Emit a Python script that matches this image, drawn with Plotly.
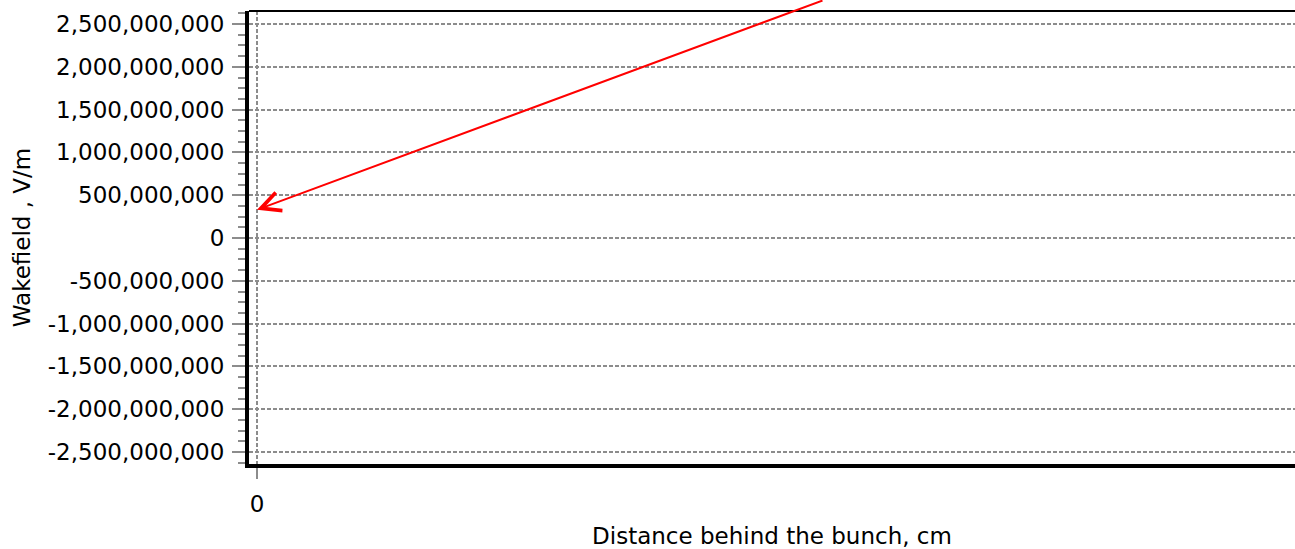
import plotly.graph_objects as go

# ---- data ----
y_tick_values = [2500000000, 2000000000, 1500000000, 1000000000, 500000000, 0,
                 -500000000, -1000000000, -1500000000, -2000000000, -2500000000]
y_tick_labels = [f"{v:,}" for v in y_tick_values]
x_tick_values = [0]
x_tick_labels = ["0"]
y_range = [-2640000000, 2652000000]
x_range = [-0.1, 13.0]
# red arrow: tip point (distance, wakefield)
arrow_x = [0.0]
arrow_y = [330000000]

FONT = "DejaVu Sans"

fig = go.Figure()
fig.add_trace(go.Scatter(x=[], y=[], mode="lines", showlegend=False))

fig.add_annotation(x=arrow_x[0], y=arrow_y[0], xref="x", yref="y",
                   text="", showarrow=True, ax=567, ay=-210,
                   arrowhead=5, arrowsize=1.9, arrowwidth=2, arrowcolor="#ff0000")

fig.add_shape(type="line", xref="paper", yref="paper", x0=0, x1=1, y0=1, y1=1,
              line=dict(color="black", width=2))

fig.update_layout(
    width=1295, height=549,
    margin=dict(l=249, r=0, t=11, b=85),
    paper_bgcolor="white", plot_bgcolor="white",
    font=dict(family=FONT, size=23, color="black"),
    showlegend=False,
    xaxis=dict(range=x_range, tickvals=x_tick_values, ticktext=x_tick_labels,
               showgrid=True, gridcolor="#8c8c8c", gridwidth=2, griddash="4px,2px",
               zeroline=False, showline=True, linecolor="black", linewidth=4,
               ticks="outside", ticklen=11, tickwidth=2, tickcolor="#8c8c8c",
               ticklabelstandoff=5,
               title=dict(text="Distance behind the bunch, cm", standoff=16,
                          font=dict(family=FONT, size=23))),
    yaxis=dict(range=y_range, tickvals=y_tick_values, ticktext=y_tick_labels,
               showgrid=True, gridcolor="#8c8c8c", gridwidth=2, griddash="4px,2px",
               zeroline=False, showline=True, linecolor="black", linewidth=4,
               ticks="outside", ticklen=13, tickwidth=2, tickcolor="#8c8c8c",
               ticklabelstandoff=3,
               minor=dict(dtick=125000000, tick0=0, ticks="outside", ticklen=7,
                          tickwidth=2, tickcolor="#8c8c8c", showgrid=False),
               title=dict(text="Wakefield , V/m", standoff=12,
                          font=dict(family=FONT, size=23))),
)

fig.write_html("out.html", config={"displayModeBar": False},
               post_script="document.body.style.margin='0';document.body.style.overflow='hidden';")
